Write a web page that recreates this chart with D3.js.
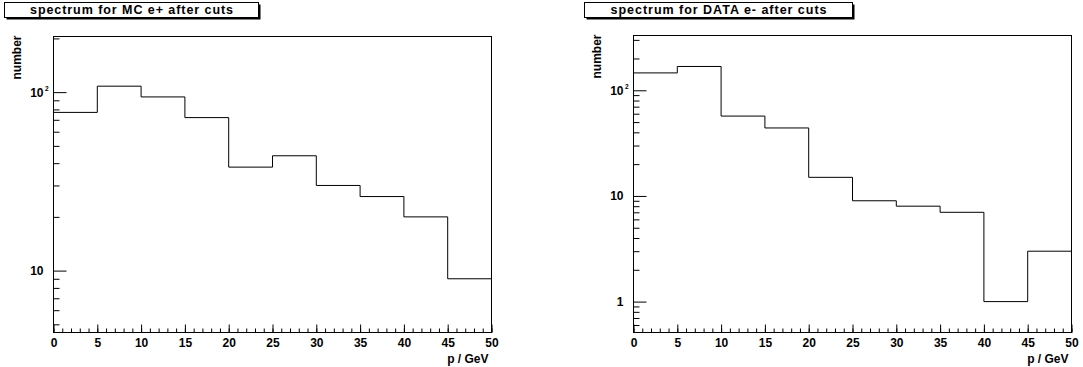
<!DOCTYPE html>
<html>
<head>
<meta charset="utf-8">
<script src="https://cdn.jsdelivr.net/npm/d3@7"></script>
<style>
  body { margin: 0; background: #fff; }
  svg { display: block; font-family: 'Liberation Sans', Arial, sans-serif; font-weight: bold; }
</style>
</head>
<body>
<div id="chart"></div>
<script>
// bin edges and counts
const binEdges = [0, 5, 10, 15, 20, 25, 30, 35, 40, 45, 50];
const mcCounts = [77, 108, 94, 72, 38, 44, 30, 26, 20, 9];
const dataCounts = [146, 168, 57, 44, 15, 9, 8, 7, 1, 3];
const xTickLabels = [0, 5, 10, 15, 20, 25, 30, 35, 40, 45, 50];
const mcYLabels = [10, 100];
const dataYLabels = [1, 10, 100];
const titles = ['spectrum for MC e+ after cuts', 'spectrum for DATA e- after cuts'];

const width = 1083;
const height = 367;

const svg = d3
  .select('#chart')
  .append('svg')
  .attr('width', width)
  .attr('height', height);

svg.append('rect').attr('width', width).attr('height', height).attr('fill', '#fff');

function drawPanel(opts) {
  const { left, right, top, bottom, yDomain, counts, yLabels, title, box, titleWidth } = opts;
  const g = svg.append('g');

  const x = d3.scaleLinear().domain([0, 50]).range([left, right]);
  const y = d3.scaleLog().domain(yDomain).range([bottom, top]);

  // title box with shadow
  g.append('rect')
    .attr('x', box[0] + 2)
    .attr('y', box[1] + 2)
    .attr('width', box[2] - box[0])
    .attr('height', box[3] - box[1])
    .attr('fill', '#000');
  g.append('rect')
    .attr('x', box[0])
    .attr('y', box[1])
    .attr('width', box[2] - box[0])
    .attr('height', box[3] - box[1])
    .attr('fill', '#fff')
    .attr('stroke', '#000')
    .attr('stroke-width', 1);
  g.append('text')
    .attr('x', (box[0] + box[2]) / 2)
    .attr('y', box[3] - 3.5)
    .attr('text-anchor', 'middle')
    .attr('font-size', '12.5px')
    .attr('textLength', titleWidth)
    .attr('lengthAdjust', 'spacing')
    .text(title);

  // x axis ticks (pointing up into the frame)
  g.append('g')
    .attr('transform', `translate(0, ${bottom})`)
    .call(d3.axisBottom(x).tickValues(d3.range(0, 51, 1)).tickSize(-4).tickFormat(''))
    .call((a) => a.select('.domain').remove());
  g.append('g')
    .attr('transform', `translate(0, ${bottom})`)
    .call(d3.axisBottom(x).tickValues(xTickLabels).tickSize(-8).tickPadding(6))
    .call((a) => a.select('.domain').remove())
    .call((a) => a.selectAll('text').attr('font-size', '12px').attr('fill', '#000').attr('font-family', null));

  // y axis ticks (pointing right into the frame)
  const yt = y.ticks().filter((v) => v >= yDomain[0] && v <= yDomain[1]);
  const isMajor = (v) => Math.abs(Math.log10(v) - Math.round(Math.log10(v))) < 1e-9;
  g.append('g')
    .attr('transform', `translate(${left}, 0)`)
    .call(d3.axisLeft(y).tickValues(yt.filter((v) => !isMajor(v))).tickSize(-6).tickFormat(''))
    .call((a) => a.select('.domain').remove());
  g.append('g')
    .attr('transform', `translate(${left}, 0)`)
    .call(d3.axisLeft(y).tickValues(yt.filter(isMajor)).tickSize(-13).tickFormat(''))
    .call((a) => a.select('.domain').remove());

  yLabels.forEach((v) => {
    const base = v >= 100 ? '10' : String(v);
    g.append('text')
      .attr('x', left - 10)
      .attr('y', y(v) + 4.5)
      .attr('text-anchor', 'end')
      .attr('font-size', '12px')
      .text(base);
    if (v >= 100) {
      g.append('text')
        .attr('x', left - 8.5)
        .attr('y', y(v) - 1.5)
        .attr('font-size', '6.5px')
        .text(String(Math.round(Math.log10(v))));
    }
  });

  // frame
  g.append('rect')
    .attr('x', left)
    .attr('y', top)
    .attr('width', right - left)
    .attr('height', bottom - top)
    .attr('fill', 'none')
    .attr('stroke', '#000')
    .attr('stroke-width', 1);

  // histogram outline
  const pts = [];
  counts.forEach((c, i) => {
    pts.push([x(binEdges[i]), y(c)]);
    pts.push([x(binEdges[i + 1]), y(c)]);
  });
  g.append('path')
    .attr('d', d3.line()(pts))
    .attr('fill', 'none')
    .attr('stroke', '#000')
    .attr('stroke-width', 1);

  // axis titles
  g.append('text')
    .attr('x', right - 3)
    .attr('y', bottom + 30)
    .attr('text-anchor', 'end')
    .attr('font-size', '12px')
    .text('p / GeV');
  g.append('text')
    .attr('transform', `translate(${left - 33}, ${top - 1}) rotate(-90)`)
    .attr('text-anchor', 'end')
    .attr('font-size', '12px')
    .text('number');
}

drawPanel({
  left: 53.5, right: 491.5, top: 36.5, bottom: 332.5,
  yDomain: [4.5, 205], counts: mcCounts, yLabels: mcYLabels,
  title: titles[0], box: [4.5, 2.5, 258.5, 17.5], titleWidth: 203
});
drawPanel({
  left: 633.5, right: 1071.5, top: 35.5, bottom: 332.5,
  yDomain: [0.51, 330], counts: dataCounts, yLabels: dataYLabels,
  title: titles[1], box: [584.5, 2.5, 852.5, 17.5], titleWidth: 216
});
</script>
</body>
</html>
